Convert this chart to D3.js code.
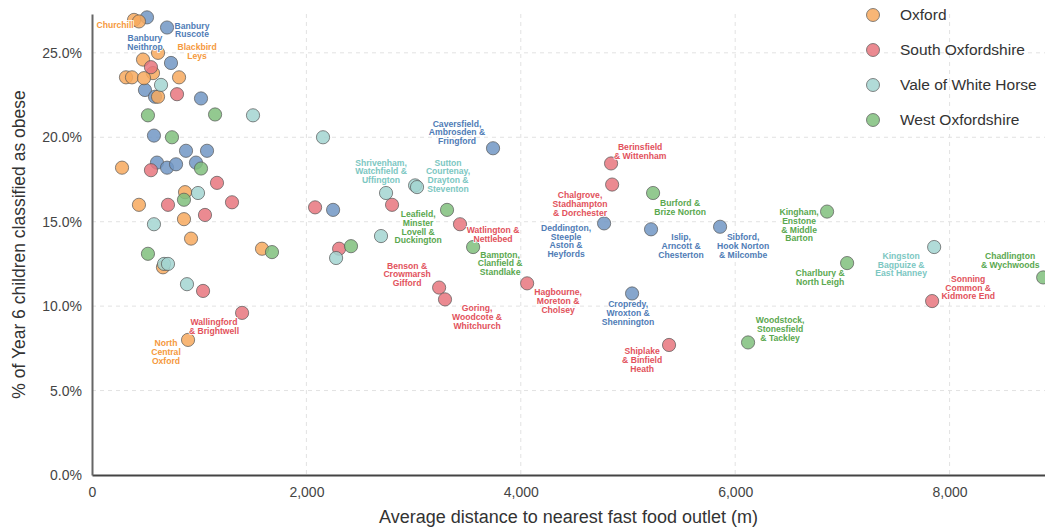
<!DOCTYPE html>
<html>
<head>
<meta charset="utf-8">
<script src="https://cdn.jsdelivr.net/npm/d3@7"></script>
<style>
  body { margin: 0; background: #fff; }
  svg { display: block; font-family: "Liberation Sans", Arial, sans-serif; }
</style>
</head>
<body>
<div id="chart"></div>
<script>
// Districts and their colours (Cherwell is not in the legend)
const districts = ['Oxford', 'South Oxfordshire', 'Vale of White Horse', 'West Oxfordshire', 'Cherwell'];
const legendNames = ['Oxford', 'South Oxfordshire', 'Vale of White Horse', 'West Oxfordshire'];

// Ward values: distance to nearest fast food outlet (m), % obese
const oxfordDist = [392, 438, 616, 476, 569, 317, 373, 485, 812, 616, 280, 868, 438, 858, 924, 1586, 662, 896];
const oxfordPct = [26.95, 26.86, 25.0, 24.6, 23.8, 23.55, 23.55, 23.5, 23.55, 22.4, 18.2, 16.75, 16.0, 15.15, 14.0, 13.4, 12.3, 8.0];

const southDist = [550, 793, 550, 1166, 709, 1306, 1054, 1036, 1400, 2081, 2799, 3433, 2305, 3238, 3293, 4059, 4842, 4852, 5383, 7837];
const southPct = [24.15, 22.55, 18.05, 17.3, 16.0, 16.15, 15.4, 10.9, 9.6, 15.85, 16.0, 14.85, 13.4, 11.1, 10.4, 11.35, 18.45, 17.2, 7.7, 10.3];

const valeDist = [644, 1502, 989, 578, 672, 709, 886, 2155, 3014, 3032, 2743, 2696, 2277, 7856];
const valePct = [23.1, 21.3, 16.7, 14.85, 12.5, 12.5, 11.3, 20.0, 17.15, 17.05, 16.7, 14.15, 12.85, 13.5];

const westDist = [522, 1148, 746, 1017, 858, 1679, 522, 2416, 3312, 3555, 5234, 6857, 7044, 6120, 8873];
const westPct = [21.3, 21.35, 20.0, 18.15, 16.3, 13.2, 13.1, 13.55, 15.7, 13.5, 16.7, 15.6, 12.55, 7.85, 11.7];

const cherwellDist = [513, 700, 737, 494, 588, 1017, 578, 877, 1073, 606, 700, 784, 970, 3741, 2249, 4777, 5215, 5859, 5038];
const cherwellPct = [27.1, 26.5, 24.4, 22.8, 22.4, 22.3, 20.1, 19.2, 19.2, 18.5, 18.2, 18.4, 18.5, 19.35, 15.7, 14.9, 14.55, 14.7, 10.75];

// Ward name annotations (anchor in data units: metres, %)
const labelText = [
  'Churchill', 'Banbury\nRuscote', 'Banbury\nNeithrop', 'Blackbird\nLeys',
  'Caversfield,\nAmbrosden &\nFringford', 'Shrivenham,\nWatchfield &\nUffington',
  'Sutton\nCourtenay,\nDrayton &\nSteventon', 'Leafield,\nMinster\nLovell &\nDuckington',
  'Watlington &\nNettlebed', 'Bampton,\nClanfield &\nStandlake', 'Benson &\nCrowmarsh\nGifford',
  'Goring,\nWoodcote &\nWhitchurch', 'Hagbourne,\nMoreton &\nCholsey', 'Cropredy,\nWroxton &\nShennington',
  'Shiplake\n& Binfield\nHeath', 'Woodstock,\nStonesfield\n& Tackley', 'Berinsfield\n& Wittenham',
  'Chalgrove,\nStadhampton\n& Dorchester', 'Deddington,\nSteeple\nAston &\nHeyfords', 'Burford &\nBrize Norton',
  'Islip,\nArncott &\nChesterton', 'Sibford,\nHook Norton\n& Milcombe', 'Kingham,\nEnstone\n& Middle\nBarton',
  'Charlbury &\nNorth Leigh', 'Kingston\nBagpuize &\nEast Hanney', 'Sonning\nCommon &\nKidmore End',
  'Chadlington\n& Wychwoods', 'Wallingford\n& Brightwell', 'North\nCentral\nOxford'
];
const labelDistrict = [
  'Oxford', 'Cherwell', 'Cherwell', 'Oxford',
  'Cherwell', 'Vale of White Horse',
  'Vale of White Horse', 'West Oxfordshire',
  'South Oxfordshire', 'West Oxfordshire', 'South Oxfordshire',
  'South Oxfordshire', 'South Oxfordshire', 'Cherwell',
  'South Oxfordshire', 'West Oxfordshire', 'South Oxfordshire',
  'South Oxfordshire', 'Cherwell', 'West Oxfordshire',
  'Cherwell', 'Cherwell', 'West Oxfordshire',
  'West Oxfordshire', 'Vale of White Horse', 'South Oxfordshire',
  'West Oxfordshire', 'South Oxfordshire', 'Oxford'
];
const labelDist = [215, 933, 494, 980, 3405, 2696, 3321, 3042, 3741, 3807, 2939, 3592, 4348, 5001, 5132, 6419, 5113, 4553, 4422, 5486, 5495, 6074, 6596, 6792, 7548, 8173, 8565, 1138, 690];
const labelPct = [26.63, 26.36, 25.62, 25.06, 20.3, 17.99, 17.72, 14.67, 14.26, 12.54, 11.89, 9.35, 10.3, 9.59, 6.8, 8.64, 19.14, 16.04, 13.85, 15.86, 13.55, 13.55, 14.79, 11.69, 12.46, 11.09, 12.72, 8.79, 7.28];

const xTicks = [0, 2000, 4000, 6000, 8000];
const yTicks = [0, 5, 10, 15, 20, 25];

const width = 1045;
const height = 529;
const margin = { top: 14, right: 0, bottom: 54, left: 92 };

const fillColor = d3.scaleOrdinal().domain(districts)
  .range(['#f7a95e', '#e8767e', '#a3d5d1', '#80bf7d', '#7196c4']);
const textColor = d3.scaleOrdinal().domain(districts)
  .range(['#f5993d', '#e2525c', '#7cc7c2', '#5aa84f', '#4f7cb6']);

const svg = d3.select('#chart').append('svg')
  .attr('width', width)
  .attr('height', height);

const x = d3.scaleLinear().domain([0, 8890]).range([margin.left, width - margin.right]);
const y = d3.scaleLinear().domain([0, 27.3]).range([height - margin.bottom, margin.top]);

// Gridlines
svg.append('g')
  .selectAll('line')
  .data(yTicks.filter(d => d > 0))
  .join('line')
  .attr('x1', margin.left).attr('x2', width)
  .attr('y1', d => y(d)).attr('y2', d => y(d))
  .attr('stroke', '#e2e2e2').attr('stroke-dasharray', '4,4');
svg.append('g')
  .selectAll('line')
  .data(xTicks.filter(d => d > 0))
  .join('line')
  .attr('y1', margin.top).attr('y2', y(0))
  .attr('x1', d => x(d)).attr('x2', d => x(d))
  .attr('stroke', '#e2e2e2').attr('stroke-dasharray', '4,4');

// Axes
const xAxis = svg.append('g')
  .attr('transform', 'translate(0,' + y(0) + ')')
  .call(d3.axisBottom(x).tickValues(xTicks).tickSize(0).tickPadding(12).tickFormat(d3.format(',')));
xAxis.select('.domain').attr('stroke', '#444').attr('stroke-width', 2);
xAxis.selectAll('text').attr('font-size', 14).attr('fill', '#444');

const yAxis = svg.append('g')
  .attr('transform', 'translate(' + margin.left + ',0)')
  .call(d3.axisLeft(y).tickValues(yTicks).tickSize(0).tickPadding(10).tickFormat(d => d.toFixed(1) + '%'));
yAxis.select('.domain').attr('stroke', '#666').attr('stroke-width', 2);
yAxis.selectAll('text').attr('font-size', 14).attr('fill', '#444');

// Axis titles
svg.append('text')
  .attr('x', (margin.left + width) / 2)
  .attr('y', 523)
  .attr('text-anchor', 'middle')
  .attr('font-size', 18)
  .attr('fill', '#333')
  .text('Average distance to nearest fast food outlet (m)');
svg.append('text')
  .attr('transform', 'translate(25,' + ((margin.top + y(0)) / 2) + ') rotate(-90)')
  .attr('text-anchor', 'middle')
  .attr('font-size', 17.5)
  .attr('fill', '#333')
  .text('% of Year 6 children classified as obese');

// Points
const groups = [
  { name: 'Cherwell', dist: cherwellDist, pct: cherwellPct },
  { name: 'Oxford', dist: oxfordDist, pct: oxfordPct },
  { name: 'South Oxfordshire', dist: southDist, pct: southPct },
  { name: 'Vale of White Horse', dist: valeDist, pct: valePct },
  { name: 'West Oxfordshire', dist: westDist, pct: westPct }
];
const points = [];
groups.forEach(g => g.dist.forEach((d, i) => points.push({ district: g.name, dist: d, pct: g.pct[i] })));

svg.append('g')
  .selectAll('circle')
  .data(points)
  .join('circle')
  .attr('cx', d => x(d.dist))
  .attr('cy', d => y(d.pct))
  .attr('r', 6.6)
  .attr('fill', d => fillColor(d.district))
  .attr('fill-opacity', 0.85)
  .attr('stroke', '#555')
  .attr('stroke-opacity', 0.7)
  .attr('stroke-width', 1);

// Ward labels
const lineHeight = 8.7;
const labels = svg.append('g')
  .selectAll('text')
  .data(labelText.map((t, i) => ({ lines: t.split('\n'), district: labelDistrict[i], dist: labelDist[i], pct: labelPct[i] })))
  .join('text')
  .attr('text-anchor', 'middle')
  .attr('font-size', 8.6)
  .attr('font-weight', 'bold')
  .attr('fill', d => textColor(d.district))
  .attr('stroke', '#fff')
  .attr('stroke-width', 1.5)
  .attr('paint-order', 'stroke')
  .attr('transform', d => 'translate(' + x(d.dist) + ',' + (y(d.pct) - (d.lines.length - 1) * lineHeight / 2 + 3) + ')');
labels.selectAll('tspan')
  .data(d => d.lines)
  .join('tspan')
  .attr('x', 0)
  .attr('dy', (d, i) => i === 0 ? 0 : lineHeight)
  .text(d => d);

// Legend
const legend = svg.append('g')
  .selectAll('g')
  .data(legendNames)
  .join('g')
  .attr('transform', (d, i) => 'translate(873,' + (15 + i * 35) + ')');
legend.append('circle')
  .attr('r', 6.5)
  .attr('fill', d => fillColor(d))
  .attr('fill-opacity', 0.85)
  .attr('stroke', '#555')
  .attr('stroke-opacity', 0.7);
legend.append('text')
  .attr('x', 27)
  .attr('dy', '0.35em')
  .attr('font-size', 15.5)
  .attr('fill', '#333')
  .text(d => d);
</script>
</body>
</html>
